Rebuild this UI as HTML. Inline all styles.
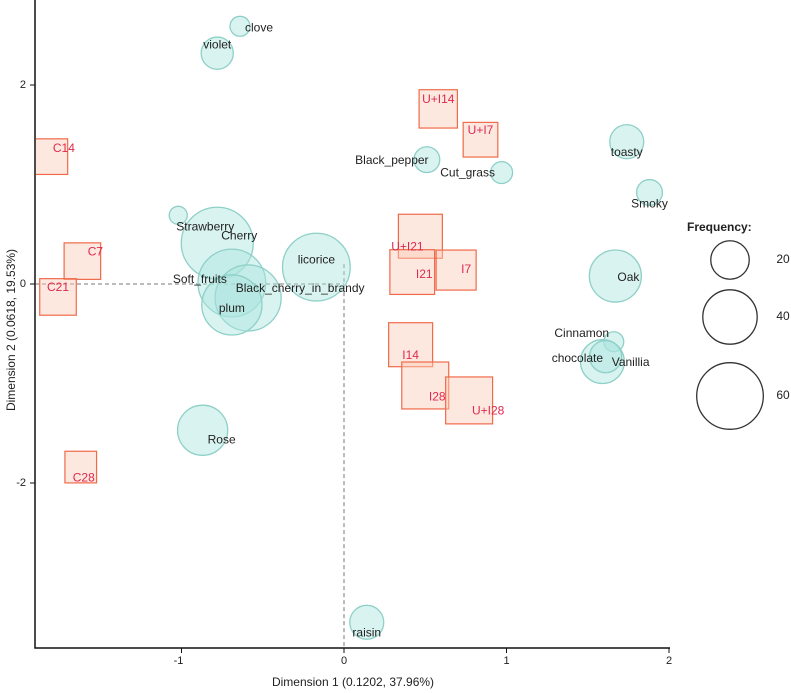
<!DOCTYPE html>
<html><head><meta charset="utf-8"><style>
html,body{margin:0;padding:0;background:#fff;}
svg{display:block;font-family:"Liberation Sans",Arial,sans-serif;}
</style></head><body>
<svg id="chart" width="791" height="693" viewBox="0 0 791 693"></svg>
<script>
// ---- data ----
const circleNames = ["clove","violet","Black_pepper","Cut_grass","toasty","Smoky","Strawberry","Cherry","licorice","Soft_fruits","Black_cherry_in_brandy","plum","Oak","Cinnamon","chocolate","Vanillia","Rose","raisin"];
const circleX = [-0.64,-0.78,0.51,0.97,1.74,1.88,-1.02,-0.78,-0.17,-0.69,-0.59,-0.69,1.67,1.66,1.59,1.61,-0.87,0.14];
const circleY = [2.59,2.32,1.25,1.12,1.43,0.92,0.69,0.41,0.17,0.01,-0.14,-0.21,0.08,-0.58,-0.78,-0.73,-1.47,-3.40];
const circleFreq = [5.4,14,9,6.5,15.6,9,4.4,70,62,62,59,49,36.6,5.4,26,14,34,15.6];
const squareNames = ["U+I14","U+I7","U+I21","I21","I7","I14","I28","U+I28","C14","C7","C21","C28"];
const squareX = [0.58,0.84,0.47,0.42,0.69,0.41,0.50,0.77,-1.81,-1.61,-1.76,-1.62];
const squareY = [1.76,1.45,0.48,0.12,0.14,-0.61,-1.02,-1.17,1.28,0.23,-0.13,-1.84];
const squareFreq = [22,18,29,30,24,29,33,33,19,20,20,15];
const xTicks = [-1,0,1,2];
const yTicks = [-2,0,2];
const legendFreq = [20,40,60];
// ---- label offsets (style, px) ----
const cLab = [[19,2],[0,-8],[-35,1],[-34,1],[0,11],[0,12],[27,12],[22,-7],[0,-7],[-32,-3],[52,-9],[0,4],[13,2],[-32,-8],[-25,-3],[25,6],[19,10],[0,11]];
const sLab = [[0,-9],[0,-9],[-13,11],[12,3],[10,0],[0,11],[12,12],[19,11],[14,-8],[13,-9],[0,-9],[3,11]];

const NS="http://www.w3.org/2000/svg";
const svg=document.getElementById('chart');
const X=v=>344+162.5*v, Y=v=>284-99.5*v, R=f=>4.3*Math.sqrt(f);
function el(t,a,p){const e=document.createElementNS(NS,t);for(const k in a)e.setAttribute(k,a[k]);(p||svg).appendChild(e);return e;}
function txt(s,x,y,a,p){const e=el('text',Object.assign({x:x,y:y,'font-size':12,'text-anchor':'middle','dominant-baseline':'middle',fill:'#222'},a||{}),p);e.textContent=s;return e;}

const clip=el('clipPath',{id:'pc'});el('rect',{x:36,y:0,width:650,height:647},clip);
const plot=el('g',{'clip-path':'url(#pc)'});



const hl=el('line',{x1:35,x2:X(0),y1:Y(0),y2:Y(0),stroke:'#777','stroke-dasharray':'4,3','stroke-width':1},plot);


const vl=el('line',{x1:X(0),x2:X(0),y1:Y(0.2),y2:648,stroke:'#777','stroke-dasharray':'4,3','stroke-width':1},plot);



for(let i=0;i<squareNames.length;i++){
  const s=2*R(squareFreq[i])*0.95, cx=X(squareX[i]), cy=Y(squareY[i]);
  const r=el('rect',{x:cx-s/2,y:cy-s/2,width:s,height:s,fill:'rgba(250,205,185,0.45)',stroke:'#f06a4a','stroke-width':1.2},plot);
  
  
}
for(let i=0;i<circleNames.length;i++){
  const c=el('circle',{cx:X(circleX[i]),cy:Y(circleY[i]),r:R(circleFreq[i]),fill:'rgba(170,228,222,0.45)',stroke:'#8ed0c8','stroke-width':1.3},plot);
  
  
}
for(let i=0;i<squareNames.length;i++){
  const t=txt(squareNames[i],X(squareX[i])+sLab[i][0],Y(squareY[i])+sLab[i][1],{fill:'#e0284e'},plot);
  
  
}
for(let i=0;i<circleNames.length;i++){
  const t=txt(circleNames[i],X(circleX[i])+cLab[i][0],Y(circleY[i])+cLab[i][1],{},plot);
  
  
}

const ax=el('path',{d:'M35,0 V648 H670',fill:'none',stroke:'#111','stroke-width':1.5});


for(const v of xTicks){
  const tk=el('line',{x1:X(v),x2:X(v),y1:648,y2:653,stroke:'#111'});
  
  
  const t=txt(String(v),X(v)-(v<0?3:0),661,{'font-size':11});
  
  
}
for(const v of yTicks){
  const tk=el('line',{x1:30,x2:35,y1:Y(v),y2:Y(v),stroke:'#111'});
  
  
  const t=txt(String(v),26,Y(v),{'font-size':11,'text-anchor':'end'});
  
  
}
const xt=txt('Dimension 1  (0.1202, 37.96%)',353,683,{'font-size':12});


const yt=txt('Dimension 2  (0.0618, 19.53%)',12,330,{'font-size':12,transform:'rotate(-90 12 330)'});



const lg=el('g',{});


const lt=txt('Frequency:',687,228,{'font-size':12,'font-weight':'bold','text-anchor':'start'},lg);


const lgY=[260,317,396];
for(let i=0;i<legendFreq.length;i++){
  const c=el('circle',{cx:730,cy:lgY[i],r:R(legendFreq[i]),fill:'none',stroke:'#333','stroke-width':1.3},lg);
  
  
  const t=txt(String(legendFreq[i]),783,lgY[i],{'font-size':12},lg);
  
  
}
</script>
</body></html>
